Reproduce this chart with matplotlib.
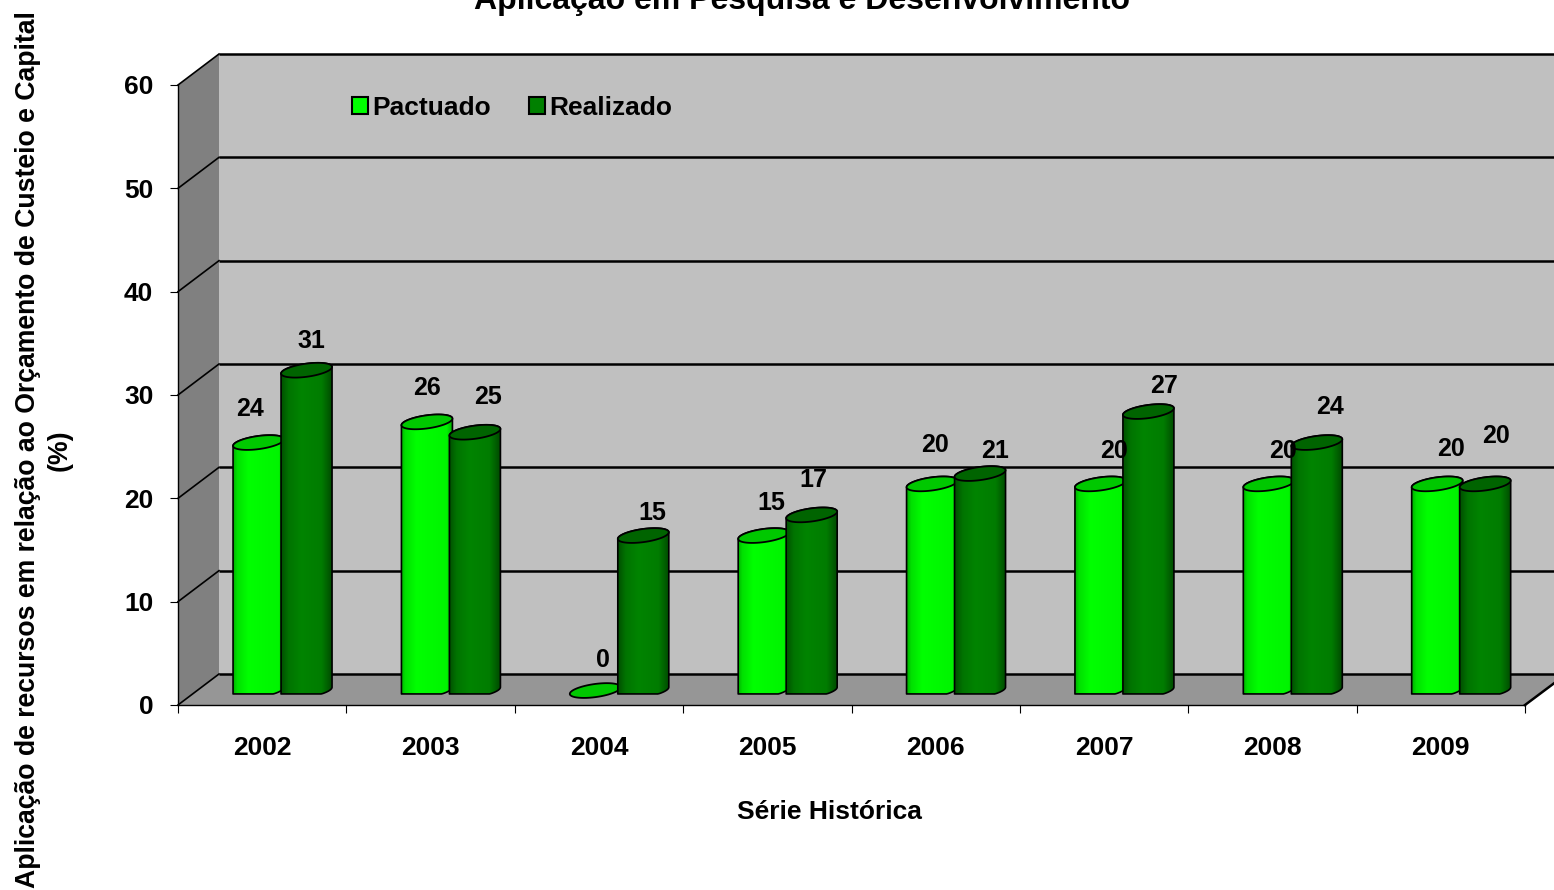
import numpy as np
import matplotlib
matplotlib.use("Agg")
import matplotlib.pyplot as plt
from matplotlib.patches import Patch, Polygon
from matplotlib.colors import LinearSegmentedColormap

plt.rcParams['font.family'] = ['Liberation Sans', 'DejaVu Sans']
plt.rcParams['font.weight'] = 'bold'

# data
years = ['2002', '2003', '2004', '2005', '2006', '2007', '2008', '2009']
pactuado = [24, 26, 0, 15, 20, 20, 20, 20]
realizado = [31, 25, 15, 17, 21, 27, 24, 20]
yticks = [0, 10, 20, 30, 40, 50, 60]

# label nudges in pixels, from the top of each cylinder
pact_lbl_dx = [-9, 0, 8, 8, 3, 14, 14, 14]
pact_lbl_dy = [34, 34, 31, 33, 39, 33, 33, 35]
real_lbl_dx = [5, 13, 9, 2, 15, 16, 13, 11]
real_lbl_dy = [29, 35, 23, 35, 23, 26, 36, 48]

W, H = 1554, 890
fig = plt.figure(figsize=(W / 100, H / 100), dpi=100, facecolor='white')
ax = fig.add_axes([178 / W, (H - 705) / H, 1347 / W, 620 / H])
ax.set_xlim(0, 8)
ax.set_ylim(0, 60)
ax.patch.set_visible(False)

# pixels per data unit
sx = 1347 / 8
sy = 620 / 60
# depth of the fake 3d box
ddx = 41 / sx
ddy = 31 / sy
xmax = (W - 178) / sx   # right edge of the figure

# walls
ax.add_patch(Polygon([(ddx, ddy), (xmax, ddy), (xmax, 60 + ddy), (ddx, 60 + ddy)],
                     fc='#c0c0c0', ec='none', clip_on=False, zorder=1))
ax.add_patch(Polygon([(0, 0), (ddx, ddy), (ddx, 60 + ddy), (0, 60)],
                     fc='#808080', ec='none', clip_on=False, zorder=2))
ax.add_patch(Polygon([(0, 0), (ddx, ddy), (xmax, ddy), (xmax, 2.1), (8, 0)],
                     fc='#969696', ec='none', clip_on=False, zorder=2))

# grid on the back wall and the side wall
for v in yticks:
    ax.plot([ddx, xmax], [v + ddy, v + ddy], color='black', lw=1.8,
            clip_on=False, zorder=3, solid_capstyle='butt')
    ax.plot([0, ddx], [v, v + ddy], color='black', lw=1.2, clip_on=False, zorder=3)
ax.plot([8, xmax], [0, 2.1], color='black', lw=1.8, clip_on=False, zorder=3)

light = LinearSegmentedColormap.from_list('light', [(0, '#00b000'), (0.08, '#00e000'),
                                                    (0.3, '#00ff00'), (0.9, '#00f400'),
                                                    (1, '#00b800')])
dark = LinearSegmentedColormap.from_list('dark', [(0, '#005000'), (0.15, '#007400'),
                                                  (0.4, '#008400'), (0.8, '#007c00'),
                                                  (1, '#004c00')])
grad = np.linspace(0, 1, 128).reshape(1, -1)

bar_w = 51 / sx
lift = 1.4      # cylinders stand in the middle of the depth
floor_y = 1.07  # flat cut at the bottom


def ellipse(cx, cy, t):
    u = bar_w / 2 * sx * np.cos(t)
    v = 6.6 * np.sin(t) + 0.13 * u
    return cx + u / sx, cy + v / sy


def cylinder(x0, val, cmap, top_col, z):
    cx = x0 + bar_w / 2
    cy = val + lift
    if val > 0:
        xb, yb = ellipse(cx, lift, np.linspace(np.pi, 2 * np.pi, 40))
        xt, yt = ellipse(cx, cy, np.linspace(0, np.pi, 40))
        yb = np.maximum(yb, floor_y)
        body = Polygon(np.column_stack([np.r_[xb, xt], np.r_[yb, yt]]), fc='none',
                       ec='black', lw=1.2, clip_on=False, zorder=z + 0.2)
        ax.add_patch(body)
        im = ax.imshow(grad, extent=(x0, x0 + bar_w, floor_y, cy + 1), cmap=cmap,
                       aspect='auto', vmin=0, vmax=1, interpolation='bilinear',
                       zorder=z + 0.1)
        im.set_clip_path(body)
    xe, ye = ellipse(cx, cy, np.linspace(0, 2 * np.pi, 80))
    ax.add_patch(Polygon(np.column_stack([xe, ye]), fc=top_col, ec='black', lw=1.3,
                         clip_on=False, zorder=z + 0.3))


for k in range(len(years)):
    x_p = k + 0.327
    x_r = k + 0.612
    cylinder(x_p, pactuado[k], light, '#00c800', 5 + k)
    cylinder(x_r, realizado[k], dark, '#006400', 5.5 + k)
    ax.annotate(str(pactuado[k]), (x_p + bar_w / 2, pactuado[k] + lift),
                xytext=(pact_lbl_dx[k], pact_lbl_dy[k]), textcoords='offset pixels',
                ha='center', va='center', fontsize=18, zorder=20)
    ax.annotate(str(realizado[k]), (x_r + bar_w / 2, realizado[k] + lift),
                xytext=(real_lbl_dx[k], real_lbl_dy[k]), textcoords='offset pixels',
                ha='center', va='center', fontsize=18, zorder=20)

ax.set_xlim(0, 8)
ax.set_ylim(0, 60)

# axes
for s in ['top', 'right']:
    ax.spines[s].set_visible(False)
for s in ['left', 'bottom']:
    ax.spines[s].set_linewidth(1.0)
    ax.spines[s].set_zorder(4)
ax.set_yticks(yticks)
ax.tick_params(axis='y', length=5.8, width=0.8, pad=12, labelsize=19)
ax.set_xticks(range(9))
ax.set_xticklabels([])
ax.set_xticks(np.arange(8) + 0.5, labels=years, minor=True)
ax.tick_params(axis='x', which='major', length=5.8, width=0.8)
ax.tick_params(axis='x', which='minor', length=0, pad=22, labelsize=19)

ax.set_xlabel('Série Histórica', fontsize=19, fontweight='bold')
ax.xaxis.set_label_coords((829 - 178) / 1347, (705 - 812) / 620)
ax.xaxis.label.set_va('center')

fig.text(44 / W, 1 - 450 / H,
         'Aplicação de recursos em relação ao Orçamento de Custeio e Capital\n(%)',
         rotation=90, ha='center', va='center', multialignment='center',
         fontsize=19.2, fontweight='bold', linespacing=1.3)
fig.text(802 / W, 1 - 9 / H, 'Aplicação em Pesquisa e Desenvolvimento',
         ha='center', va='baseline', fontsize=23, fontweight='bold')

handles = [Patch(fc='#00ff00', ec='black', lw=1.5, label='Pactuado'),
           Patch(fc='#008000', ec='black', lw=1.5, label='Realizado')]
leg = ax.legend(handles=handles, ncol=2, frameon=False, fontsize=19,
                loc='center', bbox_to_anchor=((512 - 178) / 1347, (705 - 108) / 620),
                handlelength=0.6, handleheight=0.6, handletextpad=0.15,
                columnspacing=1.45, borderaxespad=0, borderpad=0)
leg.set_zorder(20)

fig.savefig('out.png', dpi=100)
